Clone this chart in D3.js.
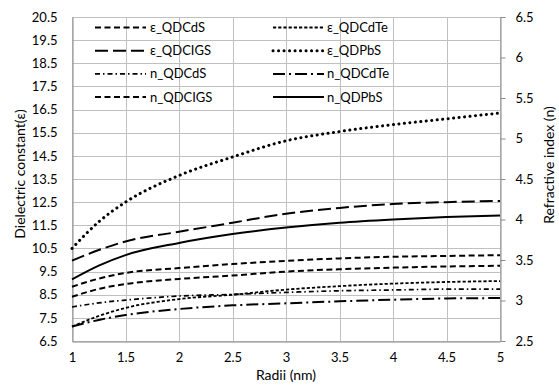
<!DOCTYPE html>
<html><head><meta charset="utf-8">
<script src="https://cdn.jsdelivr.net/npm/d3@7"></script>
<style>
body{margin:0;background:#fff;}
text{font-family:Lato,"Open Sans",sans-serif;fill:#000;}
</style></head>
<body><svg id="c" width="559" height="389"></svg>
<script>
const radii = [1, 1.25, 1.5, 2, 2.5, 3, 3.5, 4, 4.5, 5];
const eps_QDCdS  = [8.41, 8.75, 8.96, 9.18, 9.33, 9.5, 9.6, 9.67, 9.72, 9.75];
const eps_QDCIGS = [9.97, 10.43, 10.8, 11.22, 11.61, 12.0, 12.25, 12.42, 12.5, 12.55];
const eps_QDCdTe = [7.12, 7.58, 7.93, 8.31, 8.5, 8.72, 8.87, 8.98, 9.05, 9.09];
const eps_QDPbS  = [10.5, 11.65, 12.5, 13.65, 14.45, 15.15, 15.55, 15.85, 16.1, 16.35];
const n_QDCdS    = [2.92, 2.97, 3.005, 3.055, 3.075, 3.1, 3.12, 3.13, 3.14, 3.14];
const n_QDCIGS   = [3.17, 3.27, 3.34, 3.40, 3.45, 3.49, 3.52, 3.54, 3.55, 3.56];
const n_QDCdTe   = [2.68, 2.76, 2.82, 2.895, 2.94, 2.965, 2.99, 3.01, 3.025, 3.03];
const n_QDPbS    = [3.26, 3.43, 3.56, 3.71, 3.82, 3.9, 3.96, 4.0, 4.03, 4.05];
const xTicks = [1, 1.5, 2, 2.5, 3, 3.5, 4, 4.5, 5];
const leftTicks = [6.5, 7.5, 8.5, 9.5, 10.5, 11.5, 12.5, 13.5, 14.5, 15.5, 16.5, 17.5, 18.5, 19.5, 20.5];
const rightTicks = [2.5, 3, 3.5, 4, 4.5, 5, 5.5, 6, 6.5];

const series = [
  {name:"ε_QDCdS",  vals:eps_QDCdS,  axis:"L", dash:"6,3.5", w:2, cap:"butt"},
  {name:"ε_QDCdTe", vals:eps_QDCdTe, axis:"L", dash:"3.2,2", w:1.8, cap:"butt"},
  {name:"ε_QDCIGS", vals:eps_QDCIGS, axis:"L", dash:"13,5", w:2, cap:"butt"},
  {name:"ε_QDPbS",  vals:eps_QDPbS,  axis:"L", dash:"0.1,5.4", w:3, cap:"round"},
  {name:"n_QDCdS",  vals:n_QDCdS,    axis:"R", dash:"5,3,1.5,3", w:1.7, cap:"butt"},
  {name:"n_QDCdTe", vals:n_QDCdTe,   axis:"R", dash:"12,4,2,4", w:2, cap:"butt"},
  {name:"n_QDCIGS", vals:n_QDCIGS,   axis:"R", dash:"6,3.5", w:2, cap:"butt"},
  {name:"n_QDPbS",  vals:n_QDPbS,    axis:"R", dash:null, w:2, cap:"butt"}
];

const L = 72, R = 500, T = 17, B = 341;
const svg = d3.select("#c");
const x = d3.scaleLinear().domain([1,5]).range([L,R]);
const yL = d3.scaleLinear().domain([6.5,20.5]).range([B,T]);
const yR = d3.scaleLinear().domain([2.5,6.5]).range([B,T]);

const grid = svg.append("g").attr("stroke","#c0c0c0").attr("stroke-width",1);
leftTicks.forEach(v=>grid.append("line").attr("x1",L).attr("x2",R).attr("y1",Math.round(yL(v))+0.5).attr("y2",Math.round(yL(v))+0.5));
xTicks.forEach(v=>grid.append("line").attr("y1",T).attr("y2",B).attr("x1",Math.round(x(v))+0.5).attr("x2",Math.round(x(v))+0.5));

// bottom axis
const gx = svg.append("g").attr("transform",`translate(0,${Math.round(B)+0.5})`)
  .call(d3.axisBottom(x).tickValues(xTicks).tickSize(0).tickPadding(11).tickFormat(d=>d3.format("")(d)));
gx.select(".domain").attr("stroke","#8c8c8c");
gx.selectAll("text").style("font-size","13px").style("font-family","Lato");

// left axis
const gl = svg.append("g").attr("transform",`translate(${L+0.5},0)`)
  .call(d3.axisLeft(yL).tickValues(leftTicks).tickSize(0).tickPadding(15).tickFormat(d3.format(".1f")));
gl.select(".domain").attr("stroke","#8c8c8c");
gl.selectAll("text").style("font-size","13px").style("font-family","Lato");

// right axis
const gr = svg.append("g").attr("transform",`translate(${R+0.5},0)`)
  .call(d3.axisRight(yR).tickValues(rightTicks).tickSizeInner(5).tickSizeOuter(0).tickPadding(10).tickFormat(d=>d3.format("")(d)));
gr.select(".domain").attr("stroke","#8c8c8c");
gr.selectAll(".tick line").attr("stroke","#8c8c8c");
gr.selectAll("text").style("font-size","13px").style("font-family","Lato");

// lines
series.forEach(s=>{
  const ys = s.axis==="L" ? yL : yR;
  const line = d3.line().x((d,i)=>x(radii[i])).y(d=>ys(d)).curve(d3.curveMonotoneX);
  svg.append("path").datum(s.vals).attr("d",line).attr("fill","none")
    .attr("stroke","#000").attr("stroke-width",s.w)
    .attr("stroke-dasharray",s.dash).attr("stroke-linecap",s.cap);
});

// legend
const legendOrder = ["ε_QDCdS","ε_QDCdTe","ε_QDCIGS","ε_QDPbS","n_QDCdS","n_QDCdTe","n_QDCIGS","n_QDPbS"];
legendOrder.forEach((nm,i)=>{
  const s = series.find(d=>d.name===nm);
  const col = i%2, row = Math.floor(i/2);
  const x0 = col===0 ? 95 : 273, yy = 27.5 + row*23.2;
  svg.append("line").attr("x1",x0).attr("x2",x0+51).attr("y1",yy).attr("y2",yy)
    .attr("stroke","#000").attr("stroke-width",s.w).attr("stroke-dasharray",s.dash).attr("stroke-linecap",s.cap);
  svg.append("text").attr("x",x0+(col===0?55:54)).attr("y",yy).attr("dy","0.35em")
    .style("font-size","13px").text(nm);
});

// axis titles
svg.append("text").attr("x",(L+R)/2).attr("y",380).attr("text-anchor","middle").style("font-size","14px").text("Radii (nm)");
svg.append("text").attr("transform",`translate(25,174) rotate(-90)`).attr("text-anchor","middle").style("font-size","14px").text("Dielectric constant(ε)");
svg.append("text").attr("transform",`translate(549,165) rotate(-90)`).attr("text-anchor","middle").attr("dy","0.35em").style("font-size","14px").text("Refractive index (n)");
</script></body></html>
